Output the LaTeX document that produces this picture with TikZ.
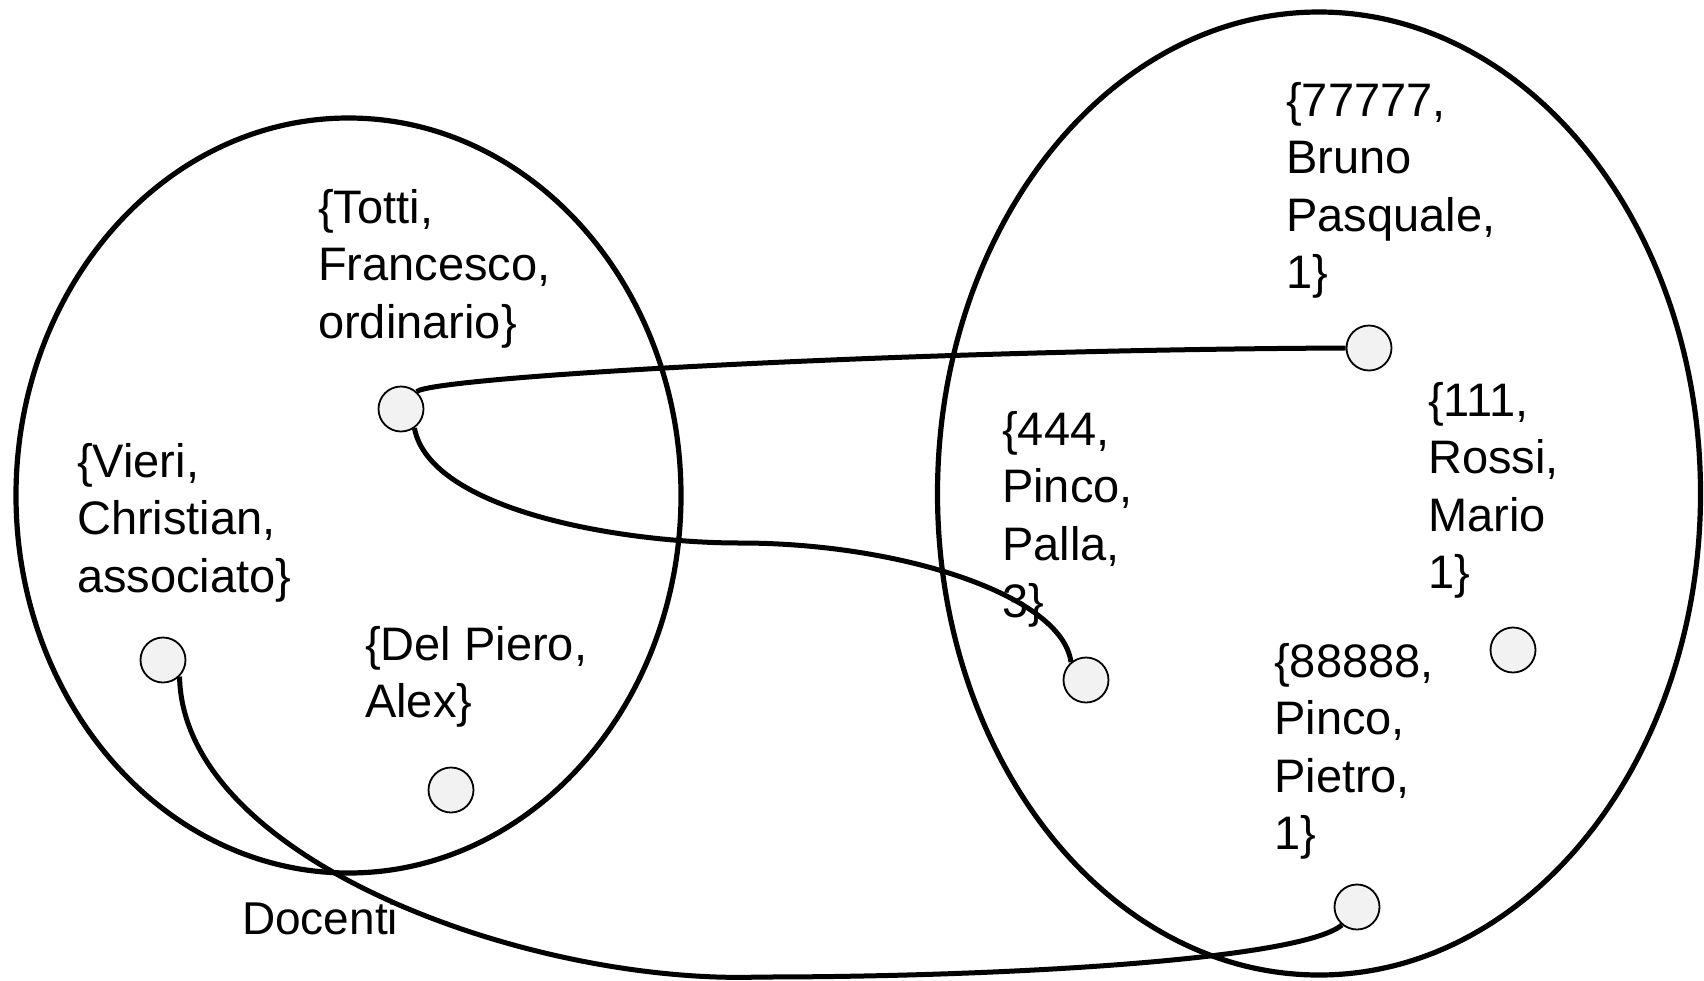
\documentclass[tikz,border=0pt]{standalone}
\usepackage{fontspec}
\setmainfont{Liberation Sans}
\usetikzlibrary{shapes.geometric}
\definecolor{elemfill}{HTML}{F2F2F2}
\begin{document}
\begin{tikzpicture}[x=1pt,y=-1pt,
  setshape/.style={draw, ellipse, line width=5.2pt, inner sep=0pt},
  conn/.style={line width=5pt},
  elem/.style={circle, draw, line width=1.8pt, fill=elemfill, minimum size=45pt, inner sep=0pt},
  lbl/.style={anchor=base west, align=left, inner sep=0pt, font=\fontsize{47}{57.5}\selectfont},
  setlbl/.style={anchor=base west, inner sep=0pt, font=\fontsize{46}{54}\selectfont}]
\useasboundingbox (0,0) rectangle (1704,980);
% sets
\node[setshape, minimum width=665pt, minimum height=755pt] (docenti) at (348.5,495.5) {};
\node[setshape, minimum width=763pt, minimum height=963pt] (corsi) at (1319,493.5) {};
\node[setlbl] (docentilbl) at (242,934) {Docenti};
% labels (anchored at the baseline of their last line)
\node[lbl] (ltotti) at (318,338) {\{Totti,\\Francesco,\\ordinario\}};
\node[lbl] (lvieri) at (77,592) {\{Vieri,\\Christian,\\associato\}};
\node[lbl] (ldelpiero) at (365,717.5) {\{Del Piero,\\Alex\}};
\node[lbl] (l77777) at (1286,288.5) {\{77777,\\Bruno\\Pasquale,\\1\}};
\node[lbl] (l111) at (1428,588.5) {\{111,\\Rossi,\\Mario\\1\}};
\node[lbl] (l444) at (1002,617.5) {\{444,\\Pinco,\\Palla,\\3\}};
\node[lbl] (l88888) at (1274,849.5) {\{88888,\\Pinco,\\Pietro,\\1\}};
% elements
\node[elem] (totti) at (401,409) {};
\node[elem] (vieri) at (163,660) {};
\node[elem] (delpiero) at (451,790) {};
\node[elem] (n77777) at (1369,348) {};
\node[elem] (n111) at (1513,650) {};
\node[elem] (n444) at (1086,680) {};
\node[elem] (n88888) at (1357,907) {};
% connectors
\draw[conn] (totti.48) .. controls (432,377) and (900,350) .. (n77777.180);
\draw[conn] (totti.-55) .. controls (430,510) and (620,543) .. (740,543)
  .. controls (900,543) and (1062,595) .. (n444.130);
\draw[conn] (vieri.-45) .. controls (183,860) and (530,985) .. (760,977)
  .. controls (1000,977) and (1300,960) .. (n88888.-130);
\end{tikzpicture}
\end{document}
